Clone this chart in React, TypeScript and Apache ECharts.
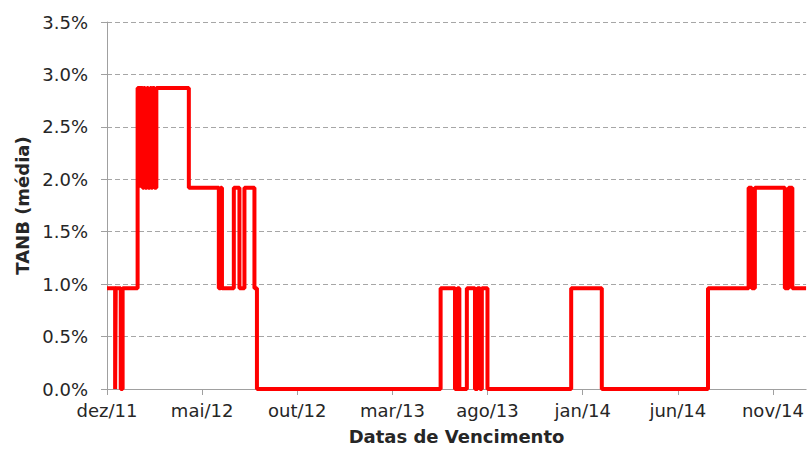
import React, { useEffect, useRef } from "react";
import * as echarts from "echarts";

// Change dates (maturity dates) and the TANB value that holds from that date on
const changeDates: string[] = [
  "2011-12-01", "2011-12-14", "2011-12-15", "2011-12-23", "2011-12-26",
  "2012-01-19", "2012-01-23", "2012-01-24", "2012-01-27", "2012-01-29",
  "2012-01-31", "2012-02-03", "2012-02-05", "2012-02-08", "2012-02-10",
  "2012-02-12", "2012-02-15", "2012-02-18", "2012-04-10", "2012-05-28",
  "2012-05-31", "2012-06-02", "2012-06-21", "2012-06-30", "2012-07-08",
  "2012-07-24", "2012-07-28", "2013-05-18", "2013-06-10", "2013-06-14",
  "2013-06-17", "2013-06-29", "2013-07-12", "2013-07-16", "2013-07-20",
  "2013-07-23", "2013-08-01", "2013-12-13", "2014-01-31", "2014-07-20",
  "2014-09-23", "2014-09-28", "2014-10-03", "2014-11-20", "2014-11-26",
  "2014-12-02", "2014-12-24",
];
const tanbValues: number[] = [
  0.96, 0, 0.96, 0, 0.96,
  2.87, 1.92, 2.87, 1.92, 2.87,
  1.92, 2.87, 1.92, 2.87, 1.92,
  2.87, 1.92, 2.87, 1.92, 0.96,
  1.92, 0.96, 1.92, 0.96, 1.92,
  0.96, 0, 0.96, 0, 0.96,
  0, 0.96, 0, 0.96, 0,
  0.96, 0, 0.96, 0, 0.96,
  1.92, 0.96, 1.92, 0.96, 1.92,
  0.96, 0.96,
];

const axisStart = "2011-12-01";
const axisEnd = "2014-12-24";
const tickDates: string[] = [
  "2011-12-01", "2012-05-01", "2012-10-01", "2013-03-01",
  "2013-08-01", "2014-01-01", "2014-06-01", "2014-11-01",
];
const tickLabels: string[] = [
  "dez/11", "mai/12", "out/12", "mar/13", "ago/13", "jan/14", "jun/14", "nov/14",
];

const DAY = 86400000;
const toDays = (s: string) => {
  const [y, m, d] = s.split("-").map(Number);
  const [y0, m0, d0] = axisStart.split("-").map(Number);
  return Math.round((Date.UTC(y, m - 1, d) - Date.UTC(y0, m0 - 1, d0)) / DAY);
};

export default function App() {
  const ref = useRef<HTMLDivElement>(null);
  useEffect(() => {
    if (!ref.current) return;
    const chart = echarts.init(ref.current, null, { renderer: "svg" });
    const tickDays = tickDates.map(toDays);
    const interval = tickDays[tickDays.length - 1] / (tickDays.length - 1);
    const data = changeDates.map((d, i) => [toDays(d), tanbValues[i]]);
    const font = "DejaVu Sans";
    chart.setOption({
      animation: false,
      textStyle: { fontFamily: font },
      grid: { left: 107, right: 0, top: 22, bottom: 63, containLabel: false },
      xAxis: {
        type: "value",
        min: 0,
        max: toDays(axisEnd),
        interval,
        name: "Datas de Vencimento",
        nameLocation: "middle",
        nameGap: 38,
        nameTextStyle: { fontFamily: font, fontSize: 18, fontWeight: "bold", color: "#262626" },
        axisLine: { show: true, lineStyle: { color: "#a0a0a0", width: 1 } },
        axisTick: { show: true, length: 6, lineStyle: { color: "#a0a0a0" } },
        splitLine: { show: false },
        axisLabel: {
          fontFamily: font,
          fontSize: 18,
          color: "#262626",
          margin: 12,
          showMaxLabel: false,
          formatter: (v: number) => {
            const idx = Math.round(v / interval);
            if (Math.abs(v - idx * interval) > 1) return "";
            return tickLabels[idx] ?? "";
          },
        },
      },
      yAxis: {
        type: "value",
        min: 0,
        max: 3.5,
        interval: 0.5,
        name: "TANB (média)",
        nameLocation: "middle",
        nameGap: 72,
        nameRotate: 90,
        nameTextStyle: { fontFamily: font, fontSize: 18, fontWeight: "bold", color: "#262626" },
        axisLine: { show: true, lineStyle: { color: "#a0a0a0", width: 1 } },
        axisTick: { show: true, length: 6, lineStyle: { color: "#a0a0a0" } },
        splitLine: { show: true, lineStyle: { color: "#a6a6a6", type: [5, 3], width: 1 } },
        axisLabel: {
          fontFamily: font,
          fontSize: 18,
          color: "#262626",
          margin: 19,
          formatter: (v: number) => v.toFixed(1) + "%",
        },
      },
      series: [
        {
          type: "line",
          step: "end",
          data,
          showSymbol: false,
          symbol: "none",
          lineStyle: { color: "#ff0000", width: 4 },
          clip: true,
        },
      ],
    });
    return () => chart.dispose();
  }, []);
  return (
    <div
      ref={ref}
      style={{ position: "fixed", left: 0, top: 0, width: 807, height: 452, background: "#fff" }}
    />
  );
}
